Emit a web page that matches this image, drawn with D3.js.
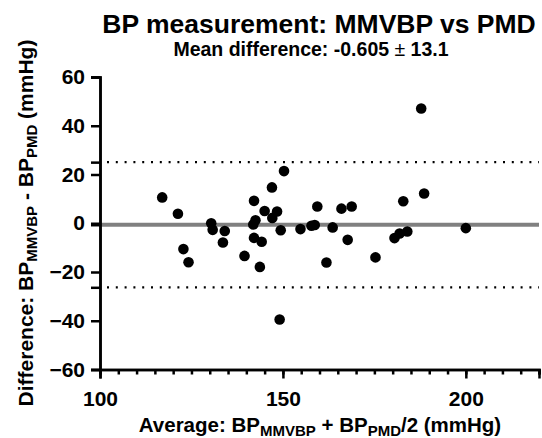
<!DOCTYPE html>
<html>
<head>
<meta charset="utf-8">
<style>
  body { margin: 0; background: #fff; }
  text { font-family: "Liberation Sans", Arial, sans-serif; font-weight: bold; fill: #000; }
</style>
</head>
<body>
<div id="chart"></div>
<script src="https://d3js.org/d3.v7.min.js"></script>
<script>

// chart data: average of the two methods vs their difference
var avgBP = [117.0, 121.3, 122.8, 124.2, 130.4, 130.8, 133.6, 134.1,
             139.5, 141.9, 142.1, 142.1, 142.5, 143.7, 144.2, 145.0, 147.0, 147.1, 148.4, 149.1, 149.4, 150.3,
             154.8, 157.8, 158.7, 159.4, 161.9, 163.6, 166.0, 167.7, 168.8,
             175.3, 180.5, 181.9, 182.9, 184.0, 187.8, 188.6, 200.0];
var diffBP = [10.6, 3.9, -10.6, -16.0, 0.0, -2.7, -7.9, -3.2,
              -13.4, -0.5, 9.2, -6.0, 1.2, -17.9, -7.6, 5.0, 14.7, 2.2, 4.8, -39.5, -2.9, 21.4,
              -2.4, -1.0, -0.7, 6.9, -16.1, -1.7, 6.0, -6.8, 6.9,
              -14.0, -6.1, -4.2, 9.0, -3.4, 47.1, 12.2, -2.0];

var meanDiff = -0.605, sdDiff = 13.1;
var limits = [meanDiff + 1.96 * sdDiff, meanDiff - 1.96 * sdDiff];

var xMajor = [100, 150, 200];
var yTicks = [-60, -40, -20, 0, 20, 40, 60];

var width = 542, height = 438;

var svg = d3.select("#chart").append("svg")
    .attr("width", width)
    .attr("height", height);

var x = d3.scaleLinear().domain([100, 220]).range([100, 539]);
var y = d3.scaleLinear().domain([-60, 60]).range([369.5, 77]);

// mean difference line
svg.append("line")
    .attr("x1", x(100)).attr("x2", x(220))
    .attr("y1", y(meanDiff)).attr("y2", y(meanDiff))
    .attr("stroke", "#808080")
    .attr("stroke-width", 4);

// limits of agreement (dotted)
svg.selectAll(".loa")
  .data(limits)
  .enter()
  .append("line")
    .attr("x1", x(100) + 7).attr("x2", x(220))
    .attr("y1", function(d){ return y(d) })
    .attr("y2", function(d){ return y(d) })
    .attr("stroke", "#000")
    .attr("stroke-width", 2.2)
    .attr("stroke-dasharray", "2,6.8");

// x axis: minor ticks every 5, labels on 100/150/200
var xAxisMinor = d3.axisBottom(x)
    .tickValues(d3.range(100, 221, 5))
    .tickSize(5)
    .tickFormat("");
var xAxisMajor = d3.axisBottom(x)
    .tickValues(xMajor)
    .tickSize(9)
    .tickPadding(13);

var gxMinor = svg.append("g")
    .attr("transform", "translate(0," + y(-60) + ")")
    .call(xAxisMinor);
var gx = svg.append("g")
    .attr("transform", "translate(0," + y(-60) + ")")
    .call(xAxisMajor);

// y axis, with extra ticks at the mean and the limits
var gy = svg.append("g")
    .attr("transform", "translate(" + x(100) + ",0)")
    .call(d3.axisLeft(y).tickValues(yTicks).tickSize(9).tickPadding(6));
var gyExtra = svg.append("g")
    .attr("transform", "translate(" + x(100) + ",0)")
    .call(d3.axisLeft(y).tickValues(limits.concat([meanDiff])).tickSize(9).tickFormat(""));

[gxMinor, gx, gy, gyExtra].forEach(function(g){
  g.selectAll("path").attr("stroke", "#000").attr("stroke-width", 2.5);
  g.selectAll("line").attr("stroke", "#000").attr("stroke-width", 2.5);
  g.selectAll("text")
    .style("font-family", "'Liberation Sans', Arial, sans-serif")
    .style("font-weight", "bold")
    .style("font-size", "21px")
    .attr("fill", "#000");
});

// points
svg.selectAll(".pt")
  .data(avgBP)
  .enter()
  .append("circle")
    .attr("cx", function(d){ return x(d) })
    .attr("cy", function(d, i){ return y(diffBP[i]) })
    .attr("r", 5.3)
    .attr("fill", "#000");

// titles
svg.append("text")
    .attr("x", 319).attr("y", 33)
    .attr("text-anchor", "middle")
    .style("font-size", "26.5px")
    .text("BP measurement: MMVBP vs PMD");

var sub = svg.append("text")
    .attr("x", 311).attr("y", 56)
    .attr("text-anchor", "middle")
    .style("font-size", "19.5px");
sub.append("tspan").text("Mean difference: " + meanDiff + " ");
sub.append("tspan").style("font-weight", "normal").text("\u00B1");
sub.append("tspan").text(" " + sdDiff);

// axis labels with subscripts
function labelParts(t, parts) {
  parts.forEach(function(p){
    var ts = t.append("tspan").text(p[0]);
    if (p[1]) ts.style("font-size", "15px").attr("dy", 4);
    else if (p[2]) ts.attr("dy", -4);
  });
}

var xl = svg.append("text")
    .attr("x", 320).attr("y", 432)
    .attr("text-anchor", "middle")
    .style("font-size", "20.5px");
labelParts(xl, [["Average: BP"], ["MMVBP", 1], [" + BP", 0, 1], ["PMD", 1], ["/2 (mmHg)", 0, 1]]);

var yl = svg.append("text")
    .attr("transform", "translate(33," + 223 + ") rotate(-90)")
    .attr("text-anchor", "middle")
    .style("font-size", "21px");
labelParts(yl, [["Difference: BP"], ["MMVBP", 1], [" - BP", 0, 1], ["PMD", 1], [" (mmHg)", 0, 1]]);

</script>
</body>
</html>
